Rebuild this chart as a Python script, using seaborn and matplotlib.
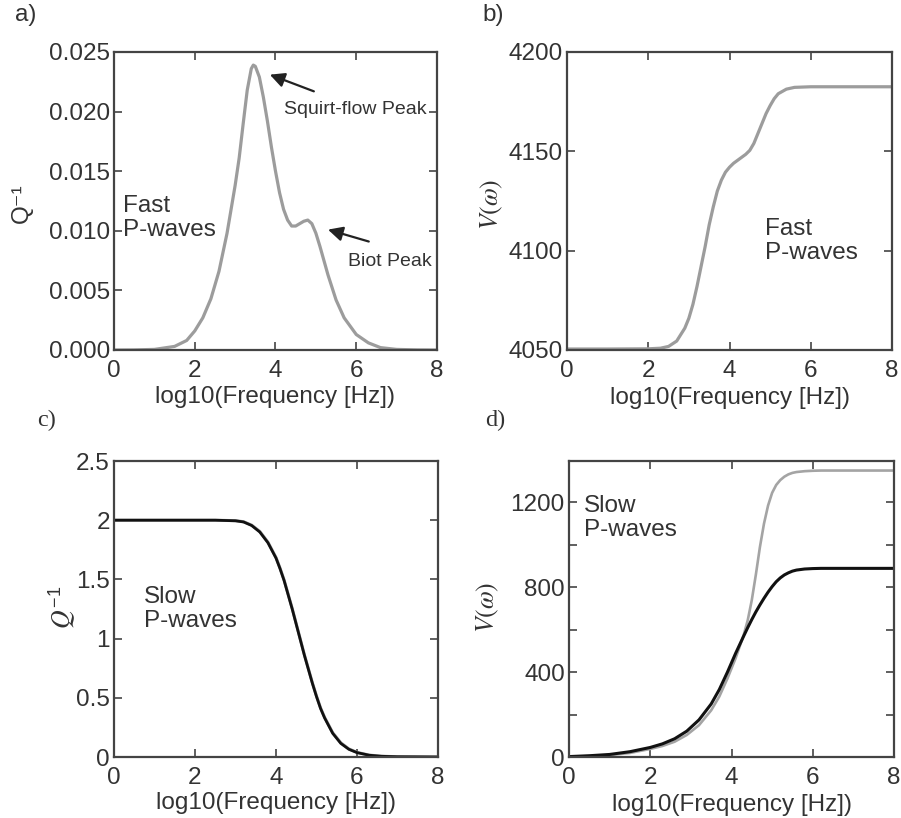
import numpy as np
import pandas as pd
import matplotlib
matplotlib.use("Agg")
import matplotlib.pyplot as plt
import seaborn as sns

# ---------------- data ----------------
# panel a: fast P-wave attenuation
a_x = [0.0, 0.5, 1.0, 1.5, 1.8, 2.0, 2.2, 2.4, 2.6, 2.8, 3.0, 3.1, 3.2, 3.3, 3.4, 3.45,
       3.5, 3.6, 3.7, 3.8, 3.9, 4.0, 4.1, 4.2, 4.3, 4.4, 4.5, 4.6, 4.7, 4.8, 4.9, 5.0,
       5.1, 5.2, 5.3, 5.5, 5.7, 6.0, 6.3, 6.6, 7.0, 7.5, 8.0]
a_q = [0.0, 0.00001, 0.00005, 0.0003, 0.0008, 0.0016, 0.0027, 0.0043, 0.0066, 0.0098,
       0.0138, 0.0161, 0.0190, 0.0218, 0.0236, 0.0239, 0.0238, 0.0229, 0.0212, 0.0192,
       0.0170, 0.0150, 0.0132, 0.0118, 0.0109, 0.0104, 0.0104, 0.0106, 0.0108, 0.0109,
       0.0106, 0.0098, 0.0087, 0.0075, 0.0063, 0.0042, 0.0027, 0.0013, 0.0006, 0.0002,
       0.00005, 0.00001, 0.0]

# panel b: fast P-wave velocity
b_x = [0.0, 1.0, 2.0, 2.3, 2.5, 2.7, 2.9, 3.0, 3.1, 3.2, 3.3, 3.4, 3.5, 3.6, 3.7, 3.8,
       3.9, 4.0, 4.1, 4.2, 4.3, 4.4, 4.5, 4.6, 4.7, 4.8, 4.9, 5.0, 5.1, 5.2, 5.4, 5.6,
       6.0, 8.0]
b_v = [4050.5, 4050.5, 4050.6, 4050.9, 4051.8, 4054.5, 4061, 4066, 4073, 4082, 4092,
       4102, 4113, 4122, 4130, 4135.5, 4139.5, 4142, 4144, 4145.5, 4147, 4148.5, 4150.5,
       4154, 4159, 4164, 4169, 4173, 4176.5, 4179, 4181.3, 4182.2, 4182.5, 4182.5]

# panel c: slow P-wave attenuation (grey and black curves)
c_x = [0.0, 2.5, 3.0, 3.2, 3.4, 3.6, 3.8, 4.0, 4.1, 4.2, 4.3, 4.4, 4.5, 4.6, 4.7, 4.8,
       4.9, 5.0, 5.1, 5.2, 5.4, 5.6, 5.8, 6.0, 6.3, 6.6, 7.0, 8.0]
c_q_black = [2.0, 2.0, 1.995, 1.985, 1.955, 1.90, 1.81, 1.68, 1.59, 1.49, 1.37, 1.25,
             1.12, 0.99, 0.86, 0.74, 0.62, 0.51, 0.41, 0.33, 0.20, 0.115, 0.065, 0.037,
             0.015, 0.006, 0.002, 0.0]
c_q_grey = [2.0, 2.0, 1.996, 1.987, 1.958, 1.905, 1.815, 1.685, 1.595, 1.495, 1.375,
            1.255, 1.125, 0.995, 0.865, 0.745, 0.625, 0.515, 0.415, 0.335, 0.205, 0.12,
            0.068, 0.039, 0.016, 0.007, 0.002, 0.0]

# panel d: slow P-wave velocity
d_x = [0.0, 0.5, 1.0, 1.5, 2.0, 2.3, 2.6, 2.9, 3.2, 3.5, 3.7, 3.9, 4.1, 4.3, 4.4, 4.5,
       4.6, 4.7, 4.8, 4.9, 5.0, 5.1, 5.2, 5.3, 5.4, 5.5, 5.6, 5.8, 6.0, 6.2, 8.0]
d_v_black = [2, 6, 12, 25, 45, 62, 86, 122, 175, 250, 318, 400, 488, 570, 610, 648,
             684, 717, 748, 777, 803, 826, 844, 858, 868, 876, 881, 886, 888, 889, 889]
d_v_grey = [1, 4, 9, 19, 38, 52, 72, 104, 150, 220, 285, 370, 465, 575, 645, 740, 860,
            990, 1100, 1185, 1245, 1282, 1305, 1321, 1332, 1339, 1343, 1347, 1349, 1350,
            1350]

x_ticks = [0, 2, 4, 6, 8]
a_yticks = [0.0, 0.005, 0.010, 0.015, 0.020, 0.025]
a_ylabels = ["0.000", "0.005", "0.010", "0.015", "0.020", "0.025"]
b_yticks = [4050, 4100, 4150, 4200]
c_yticks = [0, 0.5, 1, 1.5, 2, 2.5]
c_ylabels = ["0", "0.5", "1", "1.5", "2", "2.5"]
d_yticks = [0, 400, 800, 1200]
d_minor = [200, 600, 1000]

# ---------------- style ----------------
sns.set_style("ticks")
plt.rcParams["font.family"] = ["Liberation Sans", "DejaVu Sans"]
plt.rcParams["mathtext.fontset"] = "stix"

GREY = "#9c9c9c"
BLACK = "#111111"
FRAME = "#444444"
TXT = "#333333"
FS = 17.5

W, H = 901, 818
fig = plt.figure(figsize=(W / 100, H / 100), dpi=100)


def px_axes(l, t, r, b):
    return fig.add_axes([l / W, 1 - b / H, (r - l) / W, (b - t) / H])


ax_a = px_axes(114, 52, 437, 350)
ax_b = px_axes(567, 52, 892, 350)
ax_c = px_axes(114, 461, 438, 757)
ax_d = px_axes(569, 461, 894, 757)

sns.lineplot(x=a_x, y=a_q, ax=ax_a, color=GREY, linewidth=2.3)
sns.lineplot(x=b_x, y=b_v, ax=ax_b, color=GREY, linewidth=2.3)
sns.lineplot(x=c_x, y=c_q_grey, ax=ax_c, color=GREY, linewidth=2.2)
sns.lineplot(x=c_x, y=c_q_black, ax=ax_c, color=BLACK, linewidth=2.0)
sns.lineplot(x=d_x, y=d_v_grey, ax=ax_d, color="#a4a4a4", linewidth=1.9)
sns.lineplot(x=d_x, y=d_v_black, ax=ax_d, color=BLACK, linewidth=2.2)

for ax in (ax_a, ax_b, ax_c, ax_d):
    ax.set_xlim(0, 8)
    ax.set_xticks(x_ticks)
    ax.tick_params(direction="in", top=True, right=True, length=6, width=1.2,
                   color=FRAME, labelcolor=TXT, labelsize=FS)
    ax.tick_params(axis="x", pad=7)
    ax.tick_params(axis="y", pad=3)
    ax.tick_params(which="minor", direction="in", right=True, length=6, width=1.2,
                   color=FRAME)
    for s in ax.spines.values():
        s.set_color(FRAME)
        s.set_linewidth(1.6)
    ax.set_xlabel("log10(Frequency [Hz])", fontsize=FS, color=TXT)
    ax.xaxis.label.set_va("center")

ax_a.set_ylim(0, 0.025)
ax_a.set_yticks(a_yticks)
ax_a.set_yticklabels(a_ylabels)
ax_b.set_ylim(4050, 4200)
ax_b.set_yticks(b_yticks)
ax_c.set_ylim(0, 2.5)
ax_c.set_yticks(c_yticks)
ax_c.set_yticklabels(c_ylabels)
ax_d.set_ylim(0, 1395)
ax_d.set_yticks(d_yticks)
ax_d.set_yticks(d_minor, minor=True)

ax_a.xaxis.set_label_coords(0.5, -0.158)
ax_b.xaxis.set_label_coords(0.5, -0.160)
ax_c.xaxis.set_label_coords(0.5, -0.155)
ax_d.xaxis.set_label_coords(0.5, -0.162)

# y labels
ax_a.set_ylabel("Q⁻¹", fontsize=FS, color=TXT, family=["Liberation Sans", "DejaVu Sans"])
ax_b.set_ylabel(r"$V(\omega)$", fontsize=FS + 1, color=TXT)
ax_c.set_ylabel(r"$Q^{\mathregular{-1}}$", fontsize=FS + 1, color=TXT)
ax_d.set_ylabel(r"$V(\omega)$", fontsize=FS + 1, color=TXT)
ax_a.yaxis.set_label_coords(-0.285, 0.493)
ax_b.yaxis.set_label_coords(-0.231, 0.49)
ax_c.yaxis.set_label_coords(-0.16, 0.507)
ax_d.yaxis.set_label_coords(-0.249, 0.507)
for ax in (ax_a, ax_b, ax_c, ax_d):
    ax.yaxis.label.set_va("center")

# in-panel text
ax_a.text(0.22, 0.0111, "Fast\nP-waves", fontsize=FS, color=TXT, va="center",
          ha="left", linespacing=1.1)
ax_b.text(4.88, 4105, "Fast\nP-waves", fontsize=FS, color=TXT, va="center",
          ha="left", linespacing=1.1)
ax_c.text(0.74, 1.25, "Slow\nP-waves", fontsize=FS, color=TXT, va="center",
          ha="left", linespacing=1.1)
ax_d.text(0.37, 1126, "Slow\nP-waves", fontsize=FS, color=TXT, va="center",
          ha="left", linespacing=1.1)

arrow = dict(arrowstyle="-|>", color="#222222", lw=1.6, mutation_scale=22,
             shrinkA=0, shrinkB=0)
ax_a.annotate("", xy=(3.86, 0.0231), xytext=(4.95, 0.0217), arrowprops=arrow)
ax_a.annotate("", xy=(5.30, 0.0101), xytext=(6.31, 0.0091), arrowprops=arrow)
ax_a.text(4.22, 0.0202, "Squirt-flow Peak", fontsize=14, color=TXT, va="center",
          ha="left")
ax_a.text(5.79, 0.0074, "Biot Peak", fontsize=14, color=TXT, va="center", ha="left")

# panel letters
fig.text(15 / W, 1 - 15 / H, "a)", fontsize=FS, color=TXT, va="center", ha="left")
fig.text(482 / W, 1 - 15 / H, "b)", fontsize=FS, color=TXT, va="center", ha="left")
fig.text(37 / W, 1 - 420 / H, "c)", fontsize=FS, color=TXT, va="center", ha="left",
         family=["Liberation Serif", "DejaVu Serif"])
fig.text(485 / W, 1 - 420 / H, "d)", fontsize=FS, color=TXT, va="center", ha="left",
         family=["Liberation Serif", "DejaVu Serif"])

fig.savefig("out.png", dpi=100)
